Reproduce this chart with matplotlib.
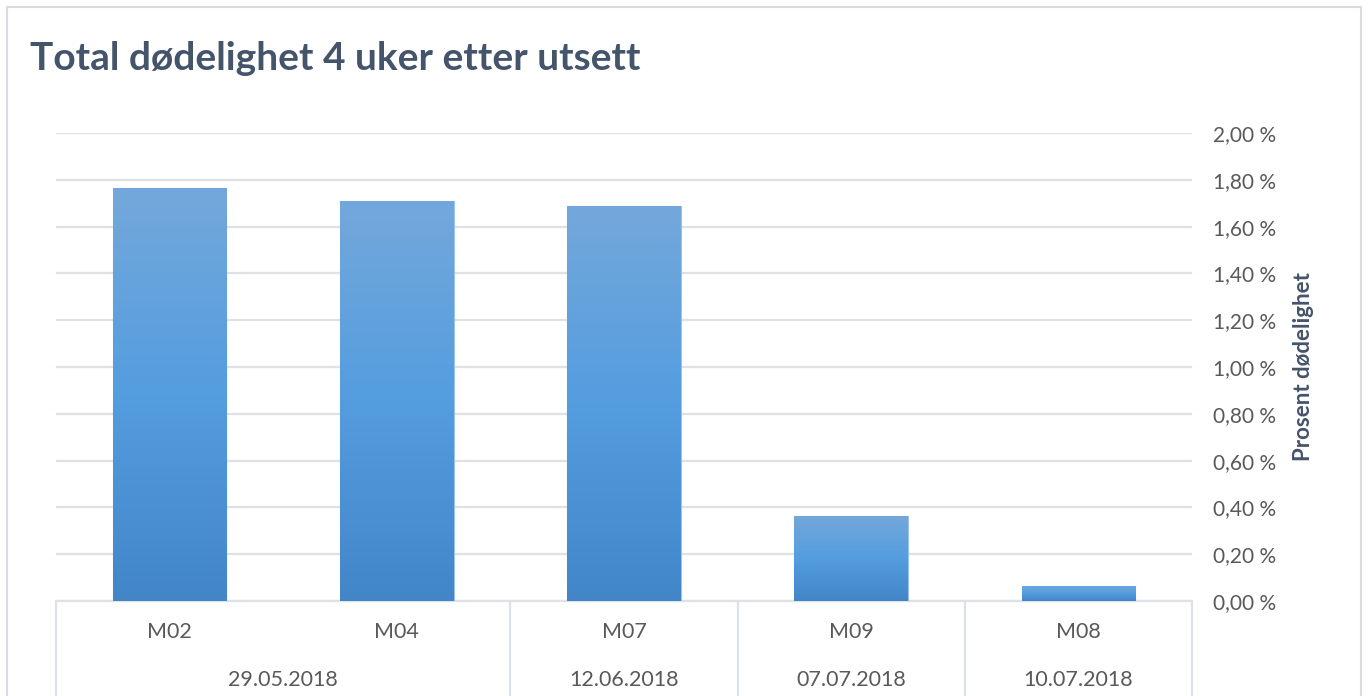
import numpy as np
import matplotlib.pyplot as plt
from matplotlib.patches import Rectangle
from matplotlib.ticker import FuncFormatter
from matplotlib.colors import LinearSegmentedColormap
import matplotlib.transforms as mtransforms

# data
merder = ["M02", "M04", "M07", "M09", "M08"]
dodelighet = [1.765, 1.71, 1.69, 0.365, 0.065]   # prosent
datoer = ["29.05.2018", "12.06.2018", "07.07.2018", "10.07.2018"]
dato_grupper = [[0, 1], [2], [3], [4]]   # which bars sit under each date
yticks = [0.0, 0.2, 0.4, 0.6, 0.8, 1.0, 1.2, 1.4, 1.6, 1.8, 2.0]

plt.rcParams['font.family'] = ['Lato', 'DejaVu Sans']
txtcol = "#44546a"
tickcol = "#595959"
gridcol = "#dde1e8"

fig = plt.figure(figsize=(13.68, 6.96), dpi=100)
fig.patches.append(Rectangle((7/1368, -0.05), 1354/1368, 1.05 - 7/696,
                             transform=fig.transFigure, fill=False,
                             edgecolor="#d9dde3", linewidth=1.5))

ax = fig.add_axes([56/1368, 95/696, (1192-56)/1368, (601-133)/696])
x = np.arange(len(merder))
bars = ax.bar(x, dodelighet, width=0.5, color="#5b9bd5", edgecolor="#9cc3e8",
              linewidth=0.8, zorder=3)

# vertical gradient in each bar
grad = np.linspace(0, 1, 256).reshape(-1, 1)
cmap = LinearSegmentedColormap.from_list("bar", ["#4286c8", "#549ddf", "#74a8db"])
for b in bars:
    x0, y0, w, h = b.get_x(), b.get_y(), b.get_width(), b.get_height()
    im = ax.imshow(grad, cmap=cmap, extent=[x0, x0 + w, y0, y0 + h],
                   origin="lower", aspect="auto", zorder=3)
    im.set_clip_path(b)

ax.set_xlim(-0.5, len(merder) - 0.5)
ax.set_ylim(0, 2.0)
ax.set_yticks(yticks)
ax.yaxis.tick_right()
ax.yaxis.set_major_formatter(FuncFormatter(lambda v, p: ("%.2f" % v).replace(".", ",") + " %"))
ax.tick_params(axis="y", length=0, pad=15, labelsize=15, labelcolor=tickcol)
ax.set_xticks([])
ax.grid(axis="y", color=gridcol, linewidth=1.6, zorder=0)
for s in ["top", "left", "right"]:
    ax.spines[s].set_visible(False)
ax.spines["bottom"].set_color(gridcol)
ax.spines["bottom"].set_linewidth(1.6)

ax.yaxis.set_label_position("right")
ax.set_ylabel("Prosent dødelighet", fontsize=16, fontweight="bold", color=txtcol,
              labelpad=12)

# two-level category axis
trans = mtransforms.blended_transform_factory(ax.transData, ax.transAxes)
for i, m in enumerate(merder):
    ax.text(i, -31/468, m, transform=trans, ha="center", va="center",
            fontsize=15.5, color=tickcol)
for d, g in zip(datoer, dato_grupper):
    ax.text(np.mean(g), -79/468, d, transform=trans, ha="center", va="center",
            fontsize=15.5, color=tickcol)
grenser = [-0.5] + [g[-1] + 0.5 for g in dato_grupper]
for gx in grenser:
    ax.plot([gx, gx], [0, -0.25], transform=trans, color=gridcol,
            linewidth=1.6, clip_on=False)

fig.text(30/1368, 1 - 59/696, "Total dødelighet 4 uker etter utsett",
         fontsize=28, fontweight="bold", color=txtcol, va="center", ha="left")

fig.savefig("out.png", dpi=100)
